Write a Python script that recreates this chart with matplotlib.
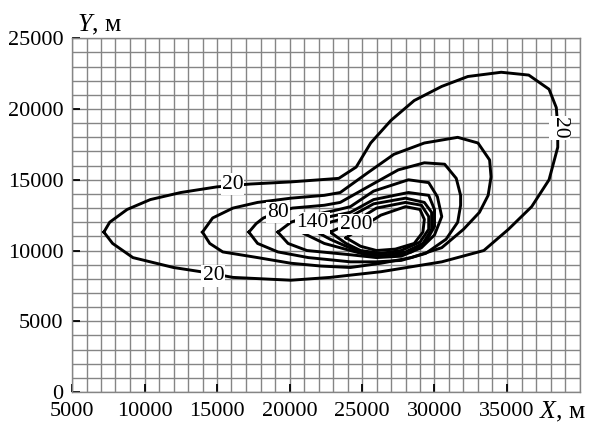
import matplotlib
matplotlib.use("Agg")
import matplotlib.pyplot as plt
import numpy as np

plt.rcParams["font.family"] = ["Liberation Serif", "DejaVu Serif"]
plt.rcParams["mathtext.fontset"] = "custom"
plt.rcParams["mathtext.rm"] = "Liberation Serif"
plt.rcParams["mathtext.it"] = "Liberation Serif:italic"

# contour lines, metres
c20_x = [7200, 7600, 8800, 10400, 12500, 15000, 17300, 20100, 23400, 24600, 25600, 27000, 28600,
         30500, 32300, 34600, 36500, 37900, 38400, 38500, 38500, 37900, 36700, 35100, 33400, 30500,
         26300, 22800, 20100, 16100, 13900, 12000, 9200, 7800, 7200]
c20_y = [11300, 12000, 12900, 13600, 14100, 14500, 14700, 14850, 15100, 15900, 17600, 19200, 20600,
         21600, 22300, 22600, 22400, 21400, 20100, 18700, 17300, 15000, 13100, 11500, 10000, 9200,
         8500, 8100, 7900, 8100, 8500, 8800, 9500, 10500, 11300]

c50_x = [14000, 14700, 16100, 17800, 20100, 22400, 23500, 25400, 27200, 29300, 31600, 33000, 33800,
         33900, 33700, 33100, 32000, 30500, 28400, 26300, 24200, 22200, 20100, 17800, 15400, 14500, 14000]
c50_y = [11300, 12300, 13000, 13400, 13700, 13900, 14100, 15500, 16800, 17600, 18000, 17600, 16400,
         15200, 13900, 12700, 11500, 10200, 9500, 9100, 8800, 8900, 9100, 9500, 9900, 10500, 11300]

c80_x = [17200, 17700, 18200, 19200, 20200, 22400, 23500, 25400, 27500, 29300, 30700, 31500, 31800,
         31800, 31600, 30800, 29400, 27700, 26000, 24200, 21300, 19200, 17800, 17200]
c80_y = [11300, 11900, 12300, 12700, 13000, 13200, 13400, 14500, 15700, 16200, 16100, 15100, 13900,
         13200, 12000, 10800, 9800, 9300, 9200, 9200, 9500, 9900, 10500, 11300]

c110_x = [19200, 20100, 21500, 23000, 24200, 25800, 28200, 29600, 30200, 30500, 30000, 29100, 27700,
          26000, 24200, 21200, 19900, 19200]
c110_y = [11300, 12000, 12500, 12800, 13100, 14200, 15000, 14800, 13800, 12400, 11100, 10200, 9600,
          9500, 9700, 10000, 10500, 11300]

c140_x = [20800, 21600, 22800, 24200, 25800, 28200, 29600, 30000, 30000, 29400, 28400, 27000, 25300,
          24200, 22400, 20800]
c140_y = [11300, 12000, 12400, 12700, 13600, 14100, 13900, 12900, 11700, 10600, 9900, 9600, 9700,
          10000, 10500, 11300]

c170_x = [21900, 22800, 24200, 25800, 28000, 29300, 29800, 29800, 29200, 28000, 26700, 24900, 23900,
          22800, 21900]
c170_y = [11300, 12000, 12400, 13300, 13700, 13400, 12700, 11500, 10500, 9900, 9700, 9900, 10300,
          10800, 11300]

c200_x = [22800, 23900, 24900, 26000, 28000, 29100, 29600, 29600, 29000, 27700, 26300, 24900, 23900, 22800]
c200_y = [11300, 11800, 12300, 13000, 13400, 13200, 12400, 11500, 10600, 10000, 9800, 10000, 10500, 11300]

c230_x = [23900, 24900, 26300, 28000, 29000, 29300, 29200, 28600, 27300, 26000, 24900, 23900]
c230_y = [10900, 11600, 12500, 13100, 12900, 12200, 11300, 10500, 10100, 10000, 10300, 10900]

contours = [(c20_x, c20_y), (c50_x, c50_y), (c80_x, c80_y), (c110_x, c110_y),
            (c140_x, c140_y), (c170_x, c170_y), (c200_x, c200_y), (c230_x, c230_y)]

# inline labels: text, x, y, rotation
label_text = ["20", "20", "20", "80", "140", "200"]
label_x = [16070, 14750, 38600, 19180, 21600, 24570]
label_y = [14700, 8200, 18660, 12660, 11950, 11810]
label_rot = [0, 0, 270, 0, 0, 0]

x_ticks = [5000, 10000, 15000, 20000, 25000, 30000, 35000]
y_ticks = [0, 5000, 10000, 15000, 20000, 25000]

fig = plt.figure(figsize=(5.91, 4.24), dpi=100)
ax = fig.add_axes([72 / 591, 1 - 392 / 424, (579.5 - 72) / 591, (392 - 38.3) / 424])

grid_col = "#858585"
ax.set_xlim(5000, 40000)
ax.set_ylim(0, 25000)
ax.set_xticks(x_ticks)
ax.set_yticks(y_ticks)
ax.set_xticks(np.arange(5000, 40001, 1000), minor=True)
ax.set_yticks(np.arange(0, 25001, 1000), minor=True)
ax.grid(which="both", color=grid_col, linewidth=1.0)
ax.set_axisbelow(True)
ax.tick_params(which="major", direction="in", length=6, width=1.3, color="black", labelsize=16)
ax.tick_params(axis="x", which="major", pad=7)
ax.tick_params(axis="y", which="major", pad=6)
ax.tick_params(which="minor", length=0)
for s in ax.spines.values():
    s.set_color(grid_col)
    s.set_linewidth(1.0)

for cx, cy in contours:
    ax.plot(cx, cy, color="black", linewidth=2.1, solid_joinstyle="round", zorder=3)

for t, lx, ly, rot in zip(label_text, label_x, label_y, label_rot):
    ax.text(lx, ly, t, fontsize=15.5, ha="center", va="center", rotation=rot, zorder=4,
            bbox=dict(boxstyle="square,pad=0.05", facecolor="white", edgecolor="none"))

fig.text(77 / 591, 1 - 31 / 424, "$Y$, м", fontsize=18.5, va="baseline", ha="left")
fig.text(539 / 591, 1 - 418 / 424, "$X$, м", fontsize=18.5, va="baseline", ha="left")

fig.savefig("out.png", dpi=100, facecolor="white")
